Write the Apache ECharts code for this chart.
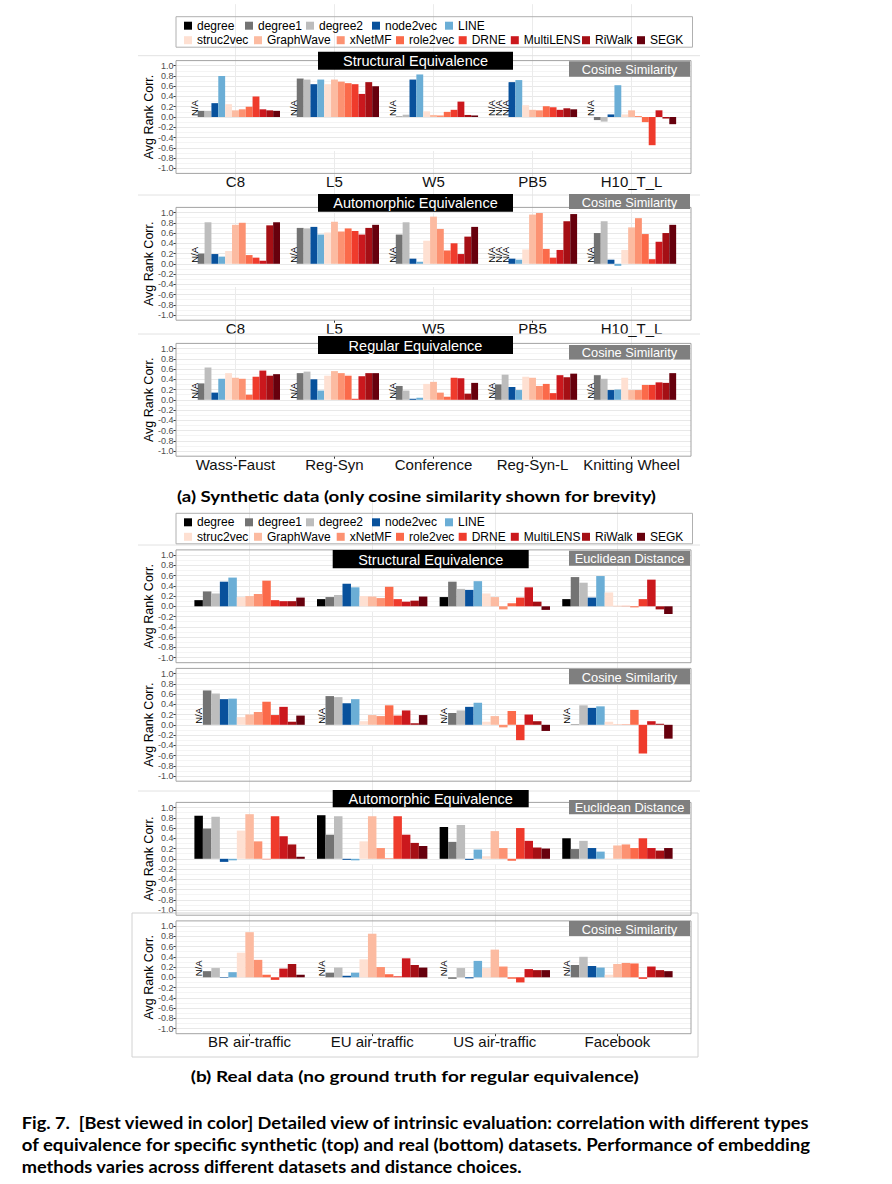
<!DOCTYPE html>
<html><head><meta charset="utf-8">
<script src="https://cdn.jsdelivr.net/npm/echarts@6/dist/echarts.min.js"></script>
<style>html,body{margin:0;padding:0;background:#fff}#c{width:892px;height:1184px}</style>
</head><body><div id="c"></div>
<script>
// ---------- data ----------
const methods = ['degree','degree1','degree2','node2vec','LINE','struc2vec','GraphWave','xNetMF','role2vec','DRNE','MultiLENS','RiWalk','SEGK'];
const methodColors = ['#000000','#737373','#bdbdbd','#08519c','#6baed6','#fee0d2','#fcbba1','#fc9272','#fb6a4a','#ef3b2c','#cb181d','#a50f15','#67000d'];
const legendRow1 = ['degree','degree1','degree2','node2vec','LINE'];
const legendRow2 = ['struc2vec','GraphWave','xNetMF','role2vec','DRNE','MultiLENS','RiWalk','SEGK'];
const synCats = ['C8','L5','W5','PB5','H10_T_L'];
const regCats = ['Wass-Faust','Reg-Syn','Conference','Reg-Syn-L','Knitting Wheel'];
const realCats = ['BR air-traffic','EU air-traffic','US air-traffic','Facebook'];
const yTickMin = -1, yTickMax = 1, yTickStep = 0.2;
// rows = categories, columns = methods (null = N/A)
const synStructCos = [
  [null,0.12,0.12,0.27,0.80,0.25,0.13,0.15,0.20,0.40,0.15,0.13,0.12],
  [null,0.75,0.73,0.64,0.73,0.64,0.73,0.69,0.66,0.64,0.45,0.68,0.60],
  [null,0.01,0.045,0.73,0.83,0.11,0.04,0.03,0.10,0.14,0.30,0.04,0.03],
  [null,null,null,0.68,0.72,0.23,0.14,0.13,0.21,0.19,0.14,0.17,0.15],
  [null,-0.06,-0.09,0.05,0.62,0.05,0.13,0.02,-0.10,-0.55,0.13,-0.03,-0.14]
];
const synAutoCos = [
  [null,0.20,0.81,0.19,0.14,0.25,0.76,0.80,0.17,0.12,0.06,0.75,0.81],
  [null,0.70,0.69,0.72,0.57,0.61,0.82,0.63,0.69,0.64,0.57,0.70,0.76],
  [null,0.57,0.81,0.10,0.04,0.45,0.92,0.68,0.26,0.40,0.19,0.53,0.72],
  [null,null,null,0.10,0.08,0.28,0.96,0.99,0.29,0.12,0.27,0.83,0.97],
  [null,0.60,0.83,0.08,-0.04,0.27,0.71,0.89,0.58,0.09,0.43,0.60,0.76]
];
const synRegCos = [
  [null,0.32,0.63,0.14,0.41,0.52,0.43,0.41,0.10,0.45,0.57,0.47,0.50],
  [null,0.52,0.55,0.40,0.18,0.47,0.56,0.52,0.47,0.02,0.46,0.52,0.52],
  [null,0.27,0.18,0.02,0.04,0.31,0.35,0.14,0.06,0.43,0.42,0.12,0.33],
  [null,0.30,0.49,0.25,0.19,0.45,0.43,0.27,0.31,0.13,0.48,0.44,0.51],
  [null,0.48,0.41,0.19,0.20,0.43,0.19,0.19,0.29,0.29,0.34,0.33,0.52]
];
const realStructEuc = [
  [0.12,0.29,0.25,0.48,0.56,0.18,0.20,0.24,0.50,0.12,0.10,0.10,0.17],
  [0.14,0.18,0.22,0.44,0.37,0.20,0.19,0.16,0.38,0.14,0.09,0.11,0.19],
  [0.18,0.48,0.34,0.32,0.49,0.25,0.18,-0.06,0.06,0.17,0.37,0.09,-0.07],
  [0.14,0.57,0.46,0.17,0.59,0.27,0.01,0.01,-0.02,0.14,0.52,-0.06,-0.15]
];
const realStructCos = [
  [null,0.67,0.61,0.50,0.51,0.15,0.20,0.25,0.45,0.19,0.35,0.06,0.18],
  [null,0.56,0.54,0.42,0.50,0.07,0.19,0.17,0.38,0.18,0.28,0.03,0.19],
  [null,0.23,0.28,0.35,0.43,0.06,0.17,-0.05,0.27,-0.30,0.20,0.07,-0.12],
  [null,0.01,0.38,0.33,0.36,0.06,0.01,0.01,0.29,-0.56,0.07,0.02,-0.27]
];
const realAutoEuc = [
  [0.84,0.59,0.82,-0.06,-0.03,0.55,0.87,0.34,-0.01,0.83,0.44,0.28,0.04],
  [0.85,0.47,0.83,-0.02,-0.03,0.34,0.83,0.21,0.01,0.83,0.47,0.31,0.25],
  [0.62,0.33,0.66,-0.02,0.18,0.05,0.54,0.21,-0.04,0.60,0.35,0.22,0.20],
  [0.40,0.19,0.35,0.21,0.14,0.01,0.26,0.28,0.21,0.40,0.21,0.16,0.21]
];
const realAutoCos = [
  [null,0.12,0.18,-0.01,0.10,0.48,0.88,0.34,0.05,-0.05,0.17,0.26,0.05],
  [null,0.09,0.19,0.03,0.09,0.35,0.85,0.20,0.06,0.02,0.37,0.24,0.19],
  [null,-0.03,0.18,-0.02,0.32,0.18,0.54,0.21,-0.03,-0.10,0.16,0.14,0.14],
  [null,0.24,0.40,0.22,0.19,0.05,0.26,0.28,0.27,-0.03,0.21,0.14,0.12]
];
const captionA = '(a) Synthetic data (only cosine similarity shown for brevity)';
const captionB = '(b) Real data (no ground truth for regular equivalence)';
const figLines = [
  'Fig. 7.  [Best viewed in color] Detailed view of intrinsic evaluation: correlation with different types',
  'of equivalence for specific synthetic (top) and real (bottom) datasets. Performance of embedding',
  'methods varies across different datasets and distance choices.'
];

// ---------- layout ----------
const FONT = '"Liberation Sans", Arial, sans-serif';
const PLOT_L = 176, PLOT_W = 515, PLOT_H = 112.8;
const panels = [
  {cats: synCats, rows: synStructCos, top: 60.6, labels: true, title: 'Structural Equivalence', tBox: [318, 51.7, 195, 18], tag: 'Cosine Similarity', gBox: [569, 61.3, 121, 15.5]},
  {cats: synCats, rows: synAutoCos, top: 207.4, labels: true, title: 'Automorphic Equivalence', tBox: [318, 194, 195, 17.7], tag: 'Cosine Similarity', gBox: [569, 194, 121, 15]},
  {cats: regCats, rows: synRegCos, top: 343.4, labels: true, title: 'Regular Equivalence', tBox: [318, 336, 195, 18], tag: 'Cosine Similarity', gBox: [569, 345, 121, 14.5]},
  {cats: realCats, rows: realStructEuc, top: 549.9, labels: false, title: 'Structural Equivalence', tBox: [332.7, 550, 196, 18.3], tag: 'Euclidean Distance', gBox: [569, 550.7, 121, 15]},
  {cats: realCats, rows: realStructCos, top: 668.4, labels: false, title: null, tag: 'Cosine Similarity', gBox: [569, 669, 121, 15.3]},
  {cats: realCats, rows: realAutoEuc, top: 802.4, labels: false, title: 'Automorphic Equivalence', tBox: [332.7, 790, 196, 17.3], tag: 'Euclidean Distance', gBox: [569, 800, 121, 14.3]},
  {cats: realCats, rows: realAutoCos, top: 920.9, labels: true, title: null, tag: 'Cosine Similarity', gBox: [569, 921, 121, 15]}
];

const grid = [], xAxis = [], yAxis = [], series = [], graphic = [], legend = [];
const fmtY = v => (Math.abs(v) < 1e-9 ? 0 : v).toFixed(1);

function labelBox(box, text, bg, fs) {
  const [x, y, w, h] = box;
  graphic.push({type: 'rect', z: 100, silent: true, shape: {x, y, width: w, height: h}, style: {fill: bg}});
  graphic.push({type: 'text', z: 101, silent: true, x: x + w / 2, y: y + h / 2 + 0.5,
    style: {text, fill: '#fff', font: fs + 'px ' + FONT, textAlign: 'center', textVerticalAlign: 'middle'}});
}

panels.forEach(p => {
  const n = p.cats.length;
  const unit = PLOT_W / (n + 0.2);
  const pad = 0.1 / 2.2 * PLOT_H;
  const gTop = p.top + pad, gH = PLOT_H - 2 * pad;
  const gA = grid.length;
  grid.push({left: PLOT_L, top: gTop, width: PLOT_W, height: gH});
  grid.push({left: PLOT_L + 0.1 * unit, top: gTop, width: n * unit, height: gH});
  xAxis.push({type: 'value', gridIndex: gA, min: 0, max: 1, show: false});
  yAxis.push({type: 'value', gridIndex: gA, min: yTickMin, max: yTickMax, interval: yTickStep,
    name: 'Avg Rank Corr.', nameLocation: 'middle', nameGap: 21, nameMoveOverlap: false,
    nameTextStyle: {fontSize: 12.5, color: '#000', fontFamily: FONT},
    axisLine: {show: false},
    axisTick: {show: true, length: 2.5, lineStyle: {color: '#333'}},
    axisLabel: {fontSize: 9, color: '#4d4d4d', margin: 2.5, fontFamily: FONT, formatter: fmtY},
    splitLine: {show: true, lineStyle: {color: '#e8e8e8', width: 1}},
    minorTick: {show: false, splitNumber: 2},
    minorSplitLine: {show: true, lineStyle: {color: '#f4f4f4', width: 1}}
  });
  const xi = xAxis.length;
  xAxis.push({type: 'category', gridIndex: gA + 1, data: p.cats, position: 'bottom', offset: pad,
    axisLine: {show: false}, axisLabel: {show: false}, splitLine: {show: false},
    axisTick: {show: true, alignWithLabel: true, inside: true, length: PLOT_H, lineStyle: {color: '#ebebeb'}}});
  xAxis.push({type: 'category', gridIndex: gA + 1, data: p.cats, position: 'bottom', offset: pad,
    axisLine: {show: false}, splitLine: {show: false},
    axisTick: {show: true, alignWithLabel: true, length: 2.5, lineStyle: {color: '#333'}},
    axisLabel: {show: p.labels, interval: 0, fontSize: 15, color: '#111', margin: 0.5, fontFamily: FONT}});
  const yi = yAxis.length;
  yAxis.push({type: 'value', gridIndex: gA + 1, min: yTickMin, max: yTickMax, show: false});
  methods.forEach((m, mi) => {
    series.push({type: 'bar', name: m, xAxisIndex: xi + 1, yAxisIndex: yi,
      barGap: '0%', barCategoryGap: '10%', itemStyle: {color: methodColors[mi]},
      data: p.rows.map(r => r[mi] === null
        ? {value: 0, label: {show: true, formatter: 'N/A', rotate: 90, position: 'top', distance: 1,
            align: 'left', verticalAlign: 'middle', fontSize: 9.5, color: '#000', fontFamily: FONT}}
        : r[mi])
    });
  });
  graphic.push({type: 'rect', z: 50, silent: true, shape: {x: PLOT_L, y: p.top, width: PLOT_W, height: PLOT_H},
    style: {fill: 'none', stroke: '#a3a3a3', lineWidth: 1}});
  if (p.title) labelBox(p.tBox, p.title, '#000', 14.5);
  labelBox(p.gBox, p.tag, '#7f7f7f', 12.8);
});

// legends (two boxes, each item placed individually)
const legX1 = [184, 245, 306, 372, 445];
const legX2 = [184, 254, 336.7, 396, 458.7, 510.8, 582, 637];
[16.7, 513.3].forEach(bt => {
  graphic.push({type: 'rect', z: 5, silent: true, shape: {x: 176, y: bt, width: 516.5, height: 30.5},
    style: {fill: 'none', stroke: '#b0b0b0', lineWidth: 1}});
  const mk = (name, x, cy) => legend.push({data: [name], left: x, top: cy - 7, padding: 0, icon: 'rect',
    itemWidth: 8, itemHeight: 8, selectedMode: false,
    textStyle: {fontSize: 12, color: '#000', fontFamily: FONT}});
  legendRow1.forEach((nm, i) => mk(nm, legX1[i], bt + 10));
  legendRow2.forEach((nm, i) => mk(nm, legX2[i], bt + 24.5));
});

// separators
[55.7, 195, 334, 545, 791].forEach(y => graphic.push({type: 'line', silent: true, z: 1,
  shape: {x1: 138, y1: y, x2: 700, y2: y}, style: {stroke: '#e2e2e2', lineWidth: 1}}));
graphic.push({type: 'rect', silent: true, z: 1, shape: {x: 132, y: 913, width: 566, height: 144},
  style: {fill: 'none', stroke: '#d2d2d2', lineWidth: 1}});

// captions
const mctx = document.createElement('canvas').getContext('2d');
function capText(text, fs, x, y, align, targetW) {
  const font = 'bold ' + fs + 'px Lato, "Open Sans", sans-serif';
  mctx.font = font;
  const w = mctx.measureText(text).width;
  graphic.push({type: 'text', silent: true, z: 10, x, y, scaleX: targetW / w,
    style: {text, font, fill: '#000', textAlign: align, textVerticalAlign: 'middle'}});
}
capText(captionA, 15.5, 416.5, 496, 'center', 481);
capText(captionB, 15.5, 414.7, 1076, 'center', 449);
capText(figLines[0], 16.5, 21.7, 1123, 'left', 790);
capText(figLines[1], 16.5, 21.7, 1145, 'left', 790);
capText(figLines[2], 16.5, 21.7, 1167, 'left', 501);

const chart = echarts.init(document.getElementById('c'), null, {renderer: 'svg', width: 892, height: 1184});
chart.setOption({animation: false, backgroundColor: '#fff', grid, xAxis, yAxis, series, legend, graphic});
</script></body></html>
